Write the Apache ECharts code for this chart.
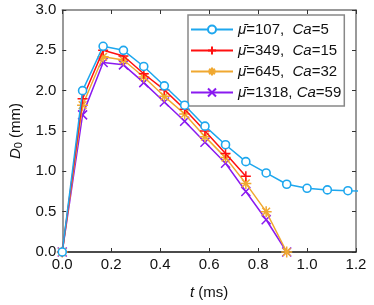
<!DOCTYPE html>
<html><head><meta charset="utf-8">
<script src="https://cdn.jsdelivr.net/npm/echarts@6/dist/echarts.min.js"></script>
<style>html,body{margin:0;padding:0;background:#fff}#c{width:374px;height:305px}</style>
</head><body><div id="c"></div>
<script>
const tBlue = [0, 0.083, 0.167, 0.25, 0.333, 0.417, 0.5, 0.583, 0.667, 0.75, 0.833, 0.917, 1.0, 1.083, 1.167, 1.25];
const dBlue = [0, 2.0, 2.55, 2.5, 2.3, 2.06, 1.82, 1.56, 1.33, 1.12, 0.98, 0.84, 0.79, 0.77, 0.76, 0.755];
const tRed = [0, 0.083, 0.167, 0.25, 0.333, 0.417, 0.5, 0.583, 0.667, 0.75];
const dRed = [0, 1.9, 2.5, 2.43, 2.21, 2.01, 1.77, 1.5, 1.22, 0.94];
const tOrange = [0, 0.083, 0.167, 0.25, 0.333, 0.417, 0.5, 0.583, 0.667, 0.75, 0.833, 0.917];
const dOrange = [0, 1.82, 2.42, 2.38, 2.17, 1.93, 1.71, 1.43, 1.17, 0.85, 0.5, 0];
const tPurple = [0, 0.083, 0.167, 0.25, 0.333, 0.417, 0.5, 0.583, 0.667, 0.75, 0.833, 0.917];
const dPurple = [0, 1.7, 2.35, 2.32, 2.1, 1.86, 1.62, 1.36, 1.1, 0.75, 0.4, 0];
const legendNames = ['107|5', '349|15', '645|32', '1318|59'];
const xTicks = [0, 0.2, 0.4, 0.6, 0.8, 1.0, 1.2];
const yTicks = [0, 0.5, 1.0, 1.5, 2.0, 2.5, 3.0];

const colors = ['#1ea7ee', '#ff1010', '#f0a830', '#8a1af0'];
const symbols = [
  'circle',
  'path://M-1,0L1,0M0,-1L0,1',
  'path://M-1,0L1,0M0,-1L0,1M-0.7,-0.7L0.7,0.7M-0.7,0.7L0.7,-0.7',
  'path://M-1,-1L1,1M-1,1L1,-1'
];
const sizes = [8, 10, 11, 9];
const ts = [tBlue, tRed, tOrange, tPurple];
const ds = [dBlue, dRed, dOrange, dPurple];

const series = ds.map((d, i) => ({
  name: legendNames[i],
  type: 'line',
  data: d.map((v, j) => [ts[i][j], v]),
  symbol: symbols[i],
  symbolSize: sizes[i],
  showAllSymbol: true,
  clip: true,
  lineStyle: { color: colors[i], width: 1.5 },
  itemStyle: i === 0 ? { color: '#fff', borderColor: colors[i], borderWidth: 1.6 }
                     : { color: colors[i], borderColor: colors[i], borderWidth: 1.5 },
  emphasis: { disabled: true },
  z: 10 - i
}));

const chart = echarts.init(document.getElementById('c'), null, { renderer: 'canvas' });
const axisCommon = {
  type: 'value',
  splitLine: { show: false },
  axisTick: { inside: true, length: 4, lineStyle: { color: '#333', width: 1 } },
};
const FF = 'Liberation Sans, Arial, sans-serif';
chart.setOption({
  animation: false,
  backgroundColor: '#fff',
  color: colors,
  grid: { left: 52, right: 18, top: 10, bottom: 52 },
  legend: {
    orient: 'vertical',
    left: 188, top: 15,
    padding: [6, 3, 5, 2],
    itemGap: 4,
    itemWidth: 42,
    itemHeight: 10,
    borderColor: '#888',
    borderWidth: 1.5,
    backgroundColor: '#fff',
    data: legendNames,
    formatter: function (n) {
      const p = n.split('|');
      return '{i|μ̄}=' + p[0] + ',' + (p[0].length > 3 ? ' ' : '  ') + '{i|Ca}=' + p[1];
    },
    textStyle: {
      fontFamily: FF, fontSize: 15, color: '#111', lineHeight: 17,
      rich: { i: { fontStyle: 'italic', fontFamily: FF, fontSize: 15, color: '#111', lineHeight: 17 } }
    }
  },
  xAxis: [
    Object.assign({}, axisCommon, {
      min: 0, max: 1.2, interval: 0.2,
      axisLine: { show: true, onZero: false, lineStyle: { color: '#111', width: 1.5 } },
      axisLabel: { color: '#111', fontSize: 15, fontFamily: FF, margin: 5,
        formatter: v => xTicks.includes(Math.round(v * 10) / 10) ? v.toFixed(1) : '' },
      name: '{i|t} (ms)',
      nameLocation: 'middle',
      nameGap: 33,
      nameTextStyle: { color: '#111', fontSize: 15, fontFamily: FF,
        rich: { i: { fontStyle: 'italic', fontSize: 15, fontFamily: FF, color: '#111' } } }
    }),
    Object.assign({}, axisCommon, {
      position: 'top', min: 0, max: 1.2, interval: 0.2,
      axisLine: { show: true, onZero: false, lineStyle: { color: '#777', width: 1.5 } },
      axisLabel: { show: false }
    })
  ],
  yAxis: [
    Object.assign({}, axisCommon, {
      min: 0, max: 3, interval: 0.5,
      axisLine: { show: true, onZero: false, lineStyle: { color: '#777', width: 1.5 } },
      axisLabel: { color: '#111', fontSize: 15, fontFamily: FF, margin: 6,
        formatter: v => yTicks.includes(Math.round(v * 10) / 10) ? v.toFixed(1) : '' },
      name: '{i|D}{s|0} (mm)',
      nameLocation: 'middle',
      nameGap: 33,
      nameTextStyle: { color: '#111', fontSize: 15, fontFamily: FF,
        rich: {
          i: { fontStyle: 'italic', fontSize: 15, fontFamily: FF, color: '#111' },
          s: { fontSize: 11, fontFamily: FF, color: '#111', padding: [7, 0, 0, 0] }
        } }
    }),
    Object.assign({}, axisCommon, {
      position: 'right', min: 0, max: 3, interval: 0.5,
      axisLine: { show: true, onZero: false, lineStyle: { color: '#777', width: 1.5 } },
      axisLabel: { show: false }
    })
  ],
  series: series
});
</script></body></html>
